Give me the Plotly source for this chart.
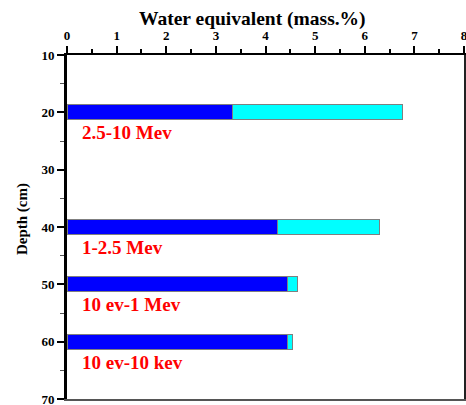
import plotly.graph_objects as go

depths = [20, 40, 50, 60]
blue_vals = [3.33, 4.25, 4.45, 4.45]
total_vals = [6.76, 6.30, 4.65, 4.54]
cyan_vals = [t - b for t, b in zip(total_vals, blue_vals)]
labels = ["2.5-10 Mev", "1-2.5 Mev", "10 ev-1 Mev", "10 ev-10 kev"]
x_ticks = [0, 1, 2, 3, 4, 5, 6, 7, 8]
y_ticks = [10, 20, 30, 40, 50, 60, 70]

FONT = "Liberation Serif, Times New Roman, serif"

fig = go.Figure()
fig.add_trace(go.Bar(
    y=depths, x=blue_vals, orientation="h", width=2.6,
    marker=dict(color="#0000FF", line=dict(color="#7f7f7f", width=1)),
    showlegend=False, hoverinfo="skip"))
fig.add_trace(go.Bar(
    y=depths, x=cyan_vals, orientation="h", width=2.6,
    marker=dict(color="#00FFFF", line=dict(color="#7f7f7f", width=1)),
    showlegend=False, hoverinfo="skip"))

for d, lab in zip(depths, labels):
    fig.add_annotation(x=0.27, y=d + 3.6, text="<b>" + lab + "</b>", showarrow=False,
                       xanchor="left", yanchor="middle",
                       font=dict(family=FONT, size=19, color="#FF0000"))

fig.add_annotation(xref="paper", yref="paper", x=0.467, y=1, yshift=36,
                   text="<b>Water equivalent (mass.%)</b>", showarrow=False,
                   xanchor="center", yanchor="middle",
                   font=dict(family=FONT, size=19.5, color="black"))
fig.add_annotation(xref="paper", yref="paper", x=0, xshift=-45, y=0.523,
                   text="<b>Depth (cm)</b>", showarrow=False, textangle=-90,
                   xanchor="center", yanchor="middle",
                   font=dict(family=FONT, size=15, color="black"))

fig.update_layout(
    width=466, height=405,
    margin=dict(l=67, r=2, t=55, b=6, autoexpand=False),
    barmode="stack", bargap=0,
    plot_bgcolor="white", paper_bgcolor="white",
    font=dict(family=FONT, color="black"),
    xaxis=dict(side="top", range=[0, 8], tickvals=x_ticks, automargin=False,
               ticktext=["<b>%d</b>" % v for v in x_ticks],
               ticklabeloverflow="allow",
               ticks="outside", ticklen=7, tickwidth=2, tickcolor="black",
               showline=True, linewidth=2.5, linecolor="black",
               showgrid=False, zeroline=False,
               tickfont=dict(family=FONT, size=13),
               minor=dict(dtick=0.5, ticks="outside", ticklen=4, tickwidth=2,
                          tickcolor="black", showgrid=False)),
    yaxis=dict(range=[70, 10], tickvals=y_ticks, automargin=False,
               ticktext=["<b>%d</b>" % v for v in y_ticks],
               ticklabeloverflow="allow",
               ticks="outside", ticklen=7, tickwidth=2, tickcolor="black",
               showline=True, linewidth=3, linecolor="black",
               showgrid=False, zeroline=False,
               tickfont=dict(family=FONT, size=13),
               minor=dict(dtick=5, ticks="outside", ticklen=4, tickwidth=1,
                          tickcolor="#555555", showgrid=False)),
    # frame lines on the right and bottom edges
    xaxis2=dict(overlaying="x", side="bottom", range=[0, 8], automargin=False,
                showline=True, linewidth=1.5, linecolor="#555555",
                showticklabels=False, ticks="", showgrid=False, zeroline=False),
    yaxis2=dict(overlaying="y", side="right", range=[70, 10], automargin=False,
                showline=True, linewidth=1.5, linecolor="#222222",
                showticklabels=False, ticks="", showgrid=False, zeroline=False),
)
# invisible trace to activate the secondary axes
fig.add_trace(go.Scatter(x=[None], y=[None], xaxis="x2", yaxis="y2",
                         showlegend=False, hoverinfo="skip"))

fig.write_html("out.html", config={"displayModeBar": False, "staticPlot": True},
               post_script="document.body.style.margin='0';document.body.style.overflow='hidden';")
